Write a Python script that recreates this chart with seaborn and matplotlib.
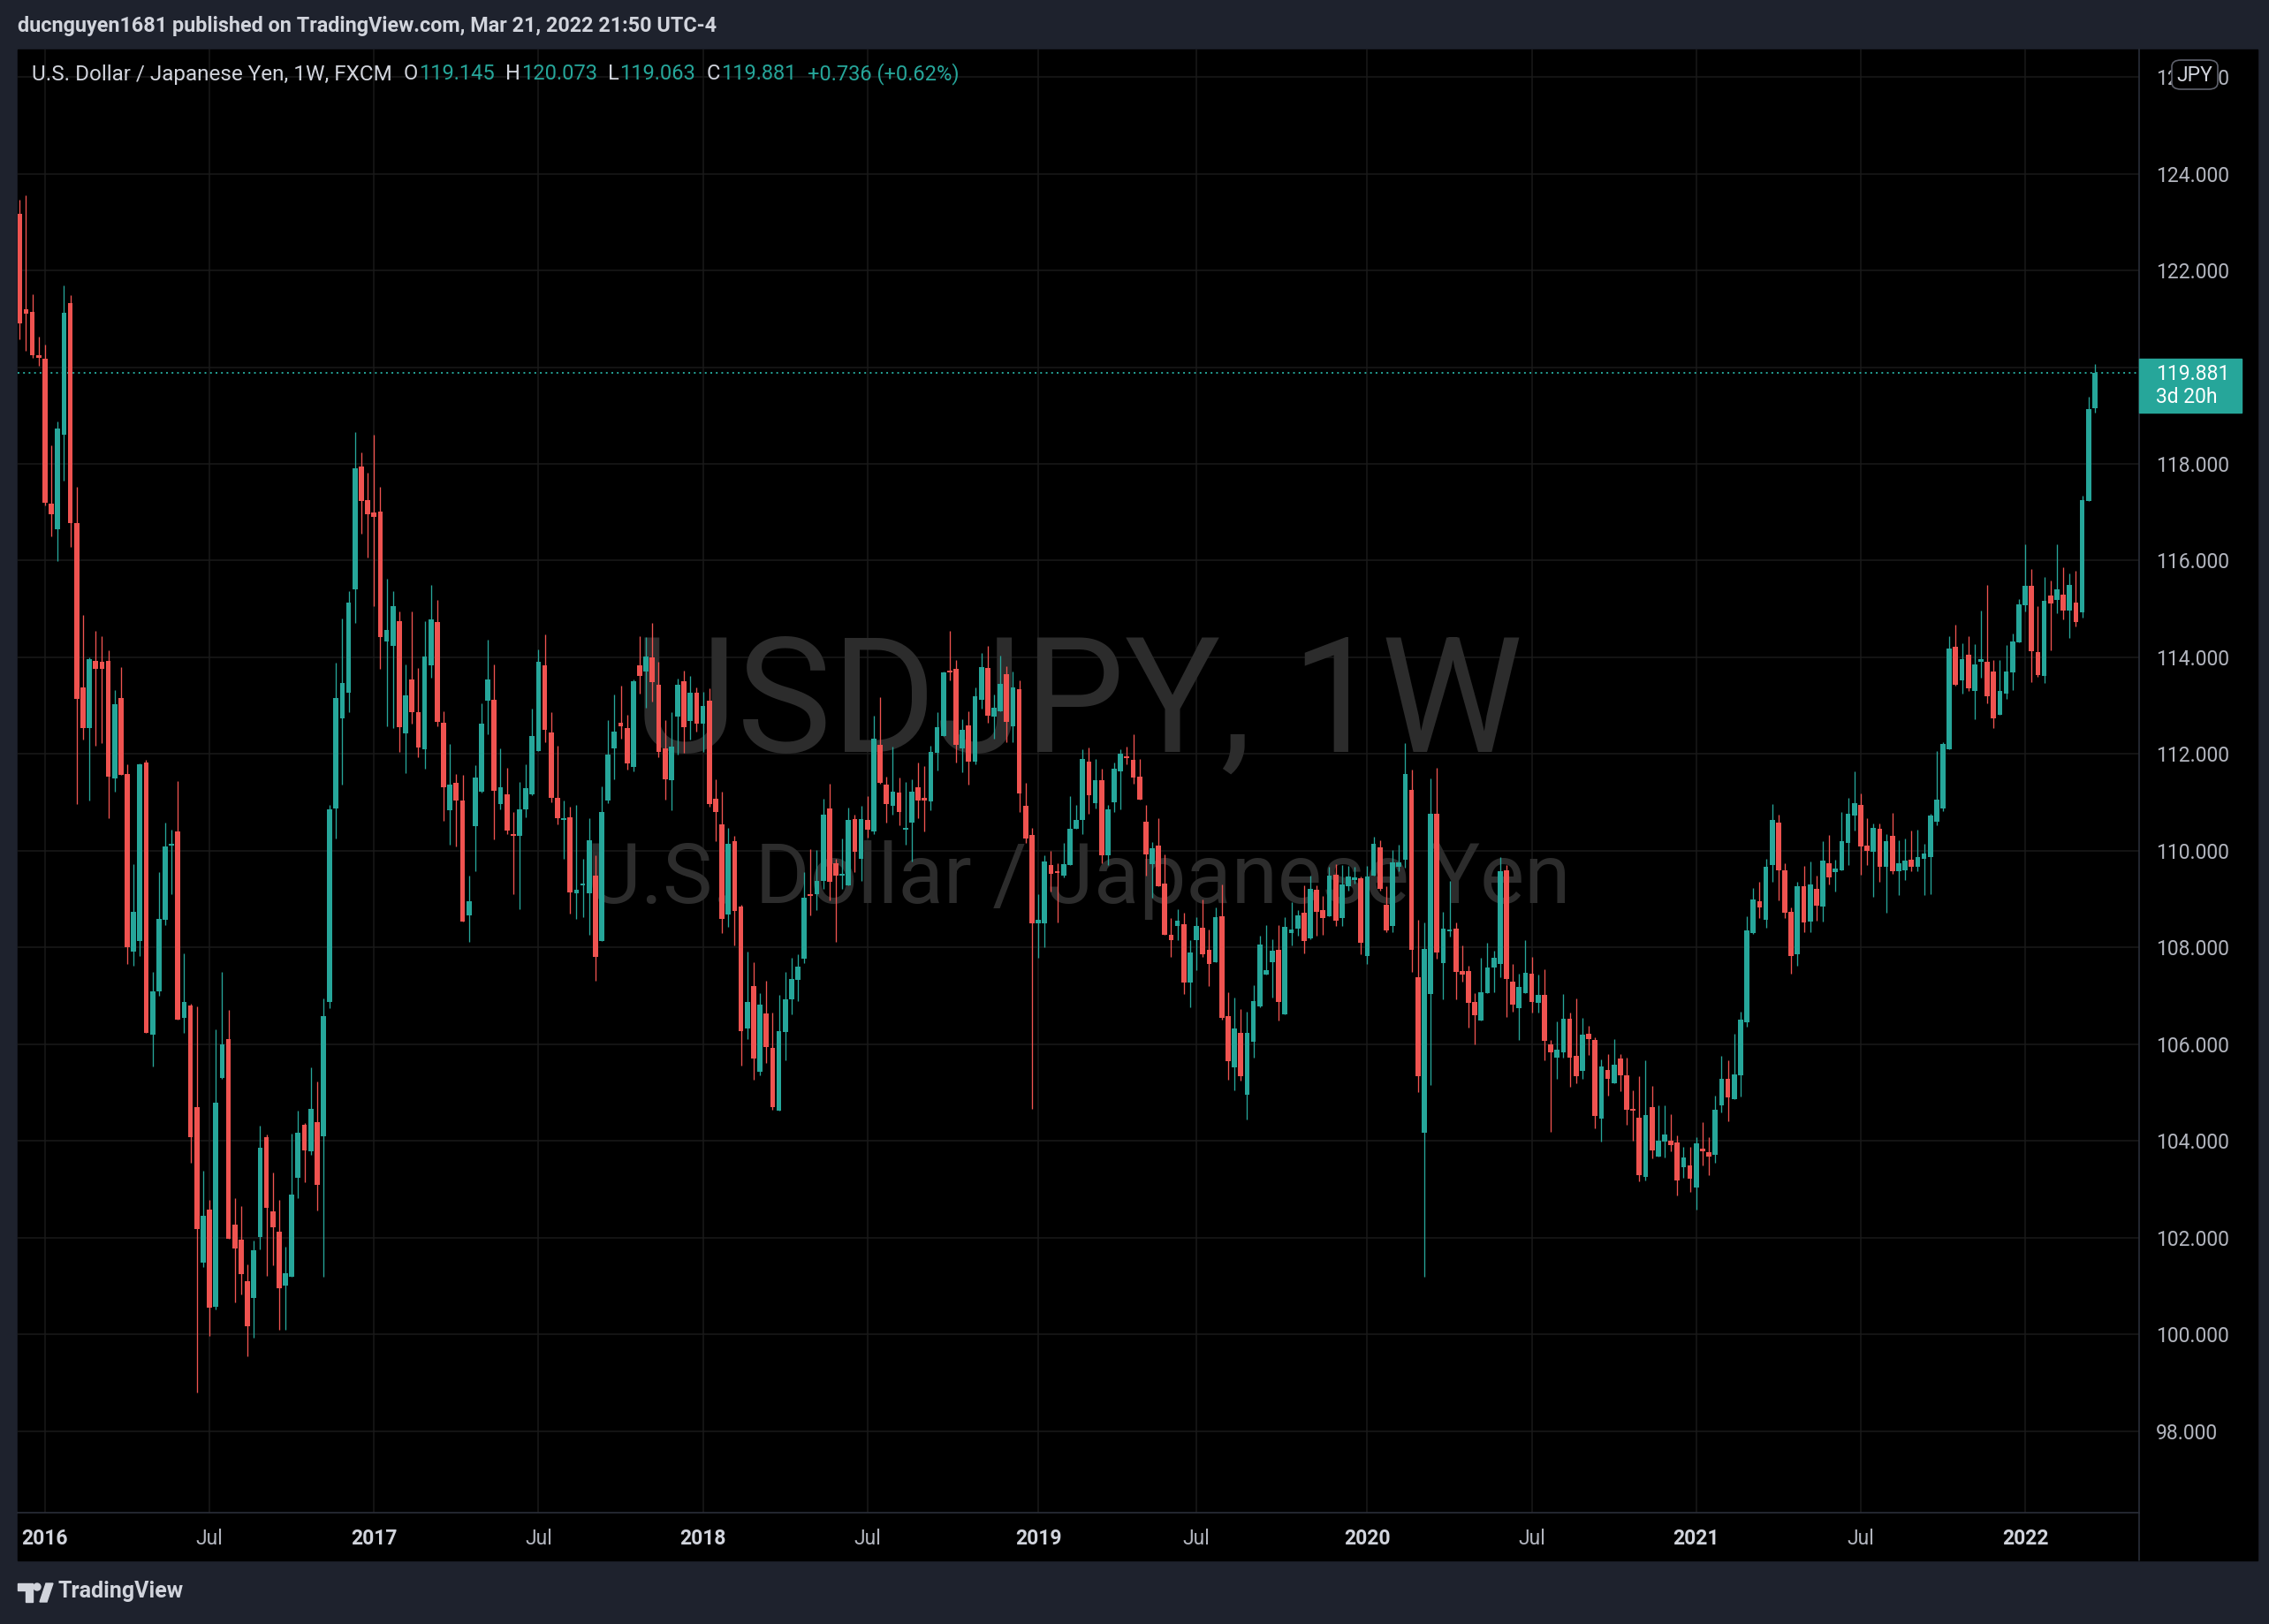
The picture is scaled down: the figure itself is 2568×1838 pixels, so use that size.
import numpy as np
import pandas as pd
import matplotlib
matplotlib.use("Agg")
import matplotlib.pyplot as plt
from matplotlib.patches import Rectangle, FancyBboxPatch, Polygon, Ellipse
from matplotlib.lines import Line2D
from matplotlib.ticker import MultipleLocator, FuncFormatter
import seaborn as sns

# weekly USD/JPY candles (FXCM, 1W), first candle = week of 2015-12-07
first_week = "2015-12-07"

opens = [
    123.17, 121.2, 121.14, 120.25, 120.17, 117.18, 116.65, 118.6, 121.32, 116.77,
    113.37, 112.53, 113.93, 113.9, 113.92, 111.5, 113.15, 111.58, 107.91, 108.14,
    111.83, 106.2, 107.09, 108.58, 110.1, 110.4, 106.55, 106.8, 104.69, 101.49,
    102.58, 100.56, 105.3, 106.1, 102.26, 101.96, 101.1, 100.75, 102.01, 104.08,
    102.54, 102.12, 101.0, 101.19, 103.23, 104.33, 103.78, 104.39, 104.1, 106.87,
    110.87, 112.74, 113.26, 115.4, 117.94, 117.25, 117.0, 117.01, 114.32, 114.24,
    114.75, 112.42, 113.54, 112.87, 112.09, 113.84, 114.73, 112.65, 110.84, 111.41,
    111.03, 108.67, 110.5, 111.22, 113.1, 113.13, 110.97, 111.17, 110.35, 110.3,
    110.86, 111.17, 112.07, 113.84, 112.44, 111.09, 110.64, 110.69, 109.12, 109.28,
    109.12, 109.48, 108.13, 111.03, 112.12, 112.64, 112.54, 111.73, 113.84, 113.7,
    113.99, 113.44, 112.11, 111.45, 112.77, 113.51, 112.69, 113.26, 112.62, 113.11,
    111.08, 110.55, 108.68, 110.19, 108.84, 106.33, 107.2, 105.43, 106.63, 105.92,
    104.62, 106.26, 106.92, 107.33, 107.77, 109.09, 109.1, 109.37, 110.88, 109.75,
    109.48, 109.28, 110.66, 109.83, 110.64, 110.4, 112.19, 111.37, 110.92, 111.21,
    110.43, 110.58, 111.32, 111.09, 111.02, 112.02, 112.37, 113.72, 113.76, 112.12,
    112.59, 111.85, 113.13, 113.78, 112.77, 112.88, 113.65, 112.58, 113.34, 110.93,
    110.33, 108.5, 108.5, 109.7, 109.55, 109.49, 109.71, 110.45, 110.63, 111.85,
    110.98, 111.45, 109.9, 111.01, 111.65, 111.95, 111.87, 111.54, 110.6, 109.73,
    110.11, 109.32, 108.27, 108.45, 108.48, 107.28, 108.15, 108.41, 107.95, 107.7,
    108.65, 106.58, 105.52, 106.24, 104.95, 106.05, 106.78, 107.44, 107.7, 107.95,
    106.62, 108.3, 108.38, 108.72, 108.19, 109.2, 108.78, 108.65, 109.51, 108.6,
    109.26, 109.4, 109.43, 107.83, 109.49, 110.07, 108.88, 108.45, 109.67, 109.82,
    111.26, 107.39, 104.16, 107.04, 110.77, 107.68, 108.33, 108.39, 107.52, 107.52,
    106.88, 106.48, 107.05, 107.58, 107.65, 109.6, 107.3, 106.75, 107.06, 107.45,
    106.86, 107.01, 106.0, 105.73, 105.83, 106.53, 105.76, 105.44, 106.22, 106.08,
    104.46, 105.46, 105.2, 105.71, 105.35, 104.64, 104.47, 103.26, 104.69, 103.68,
    103.98, 104.01, 103.96, 103.45, 103.5, 103.03, 103.83, 103.77, 103.72, 104.73,
    105.29, 104.86, 105.35, 106.45, 108.3, 108.96, 108.57, 109.7, 110.59, 109.6,
    108.73, 107.85, 109.26, 108.54, 109.22, 108.84, 109.75, 109.55, 109.59, 110.17,
    110.72, 110.94, 110.1, 109.97, 110.45, 109.66, 110.3, 109.57, 109.59, 109.82,
    109.66, 109.84, 109.86, 110.6, 110.87, 112.09, 114.21, 113.52, 114.05, 113.3,
    113.91, 113.9, 113.7, 112.81, 113.25, 113.69, 114.31, 115.07, 115.47, 114.1,
    113.61, 115.27, 115.18, 115.29, 114.96, 115.13, 114.93, 117.24, 119.145,
]

highs = [
    123.47, 123.56, 121.5, 120.64, 120.46, 118.38, 118.87, 121.69, 121.49, 117.53,
    114.87, 113.99, 114.54, 114.44, 114.14, 113.32, 113.79, 111.78, 109.72, 111.81,
    111.88, 107.49, 109.55, 110.58, 110.44, 111.44, 107.88, 106.83, 106.79, 103.38,
    102.78, 106.3, 107.5, 106.71, 102.82, 102.65, 101.44, 101.94, 104.31, 104.13,
    103.34, 102.78, 101.82, 104.15, 104.63, 104.37, 105.52, 105.22, 106.94, 110.95,
    113.88, 114.81, 115.36, 118.65, 118.24, 117.81, 118.6, 117.52, 115.62, 115.36,
    114.95, 113.86, 114.95, 113.78, 114.75, 115.5, 115.18, 112.89, 112.2, 111.59,
    111.57, 109.49, 111.77, 113.05, 114.36, 113.86, 112.12, 111.72, 110.8, 111.43,
    111.79, 112.93, 114.17, 114.48, 112.86, 112.18, 111.03, 110.91, 110.95, 109.83,
    110.67, 109.91, 111.33, 112.71, 113.23, 113.42, 112.82, 113.54, 114.44, 114.41,
    114.72, 113.9, 112.71, 112.86, 113.56, 113.73, 113.62, 113.37, 113.29, 113.36,
    111.48, 111.23, 110.48, 110.3, 108.89, 107.92, 107.69, 107.05, 107.31, 106.65,
    107.02, 107.5, 107.78, 107.85, 109.55, 110.04, 110.02, 111.07, 111.39, 109.84,
    110.26, 110.89, 110.74, 110.93, 111.13, 112.79, 113.18, 111.54, 112.16, 111.52,
    111.43, 111.48, 111.83, 111.76, 112.18, 112.87, 113.71, 114.54, 113.95, 112.72,
    112.88, 113.38, 114.09, 114.23, 113.23, 114.03, 113.81, 113.71, 113.52, 111.41,
    110.48, 109.1, 109.9, 110.0, 109.75, 110.16, 111.13, 110.95, 112.09, 112.14,
    111.9, 111.7, 110.95, 111.83, 112.1, 112.16, 112.4, 111.9, 110.95, 110.18,
    110.68, 109.93, 108.61, 108.79, 108.72, 108.15, 108.63, 108.99, 108.37, 108.83,
    109.3, 107.07, 106.96, 106.73, 106.68, 107.22, 108.24, 108.47, 108.17, 108.47,
    108.63, 108.94, 108.78, 109.29, 109.49, 109.29, 109.07, 109.67, 109.73, 109.7,
    109.69, 109.67, 109.47, 109.69, 110.29, 110.22, 109.27, 110.02, 110.13, 112.23,
    111.68, 108.58, 108.51, 111.5, 111.72, 108.73, 109.38, 108.52, 108.05, 107.63,
    107.06, 107.78, 108.09, 107.94, 109.86, 109.7, 107.65, 107.45, 108.16, 107.8,
    107.43, 107.54, 106.09, 106.47, 107.04, 106.65, 106.95, 106.55, 106.37, 106.15,
    105.68, 105.79, 106.1, 105.79, 105.73, 105.04, 105.33, 105.66, 105.13, 104.74,
    104.73, 104.56, 104.12, 103.87, 103.88, 104.07, 104.38, 104.07, 104.93, 105.75,
    105.66, 106.21, 106.68, 108.64, 109.23, 109.35, 109.84, 110.96, 110.74, 109.75,
    108.82, 109.35, 109.68, 109.77, 109.49, 110.19, 110.32, 109.82, 110.81, 111.1,
    111.65, 111.18, 110.68, 110.57, 110.57, 110.34, 110.79, 110.21, 110.26, 110.41,
    110.43, 110.15, 110.77, 112.07, 112.24, 114.44, 114.68, 114.3, 114.43, 114.28,
    114.96, 115.5, 113.95, 113.95, 114.26, 114.5, 115.21, 116.34, 115.83, 115.05,
    115.67, 115.58, 116.33, 115.87, 115.74, 115.79, 117.35, 119.39, 120.073,
]

lows = [
    120.58, 120.33, 120.2, 120.03, 117.15, 116.5, 115.99, 117.65, 116.28, 110.96,
    112.3, 111.04, 112.17, 112.23, 110.67, 111.22, 111.56, 107.65, 107.62, 107.82,
    106.24, 105.54, 107.0, 108.46, 109.1, 106.5, 106.24, 103.54, 98.8, 101.39,
    99.97, 100.52, 105.28, 101.97, 100.66, 100.82, 99.54, 99.93, 101.75, 101.2,
    101.43, 100.1, 100.09, 101.19, 102.81, 103.15, 103.72, 102.56, 101.19, 106.74,
    110.26, 111.36, 112.86, 114.72, 116.56, 116.06, 115.06, 113.77, 112.58, 112.53,
    112.05, 111.6, 112.62, 111.94, 111.69, 113.57, 112.57, 110.62, 110.12, 110.09,
    108.54, 108.12, 109.58, 111.21, 112.4, 110.24, 110.86, 110.34, 109.11, 108.8,
    110.7, 111.14, 112.07, 112.24, 111.0, 110.55, 109.83, 108.7, 108.59, 108.63,
    108.27, 107.32, 108.13, 110.98, 111.48, 112.32, 111.68, 111.64, 113.25, 112.95,
    113.08, 111.93, 111.05, 110.84, 111.99, 112.02, 112.3, 112.46, 112.04, 110.91,
    110.19, 108.29, 108.42, 108.05, 105.56, 106.11, 105.26, 105.36, 105.62, 104.64,
    104.62, 105.67, 106.62, 106.89, 107.68, 108.67, 108.77, 109.22, 108.97, 108.12,
    109.22, 109.28, 109.56, 109.37, 110.28, 110.35, 111.39, 110.59, 110.74, 110.52,
    110.12, 109.78, 110.68, 110.39, 110.84, 111.66, 112.37, 113.53, 111.83, 111.63,
    111.37, 111.78, 112.94, 112.65, 112.31, 112.88, 112.24, 112.25, 110.81, 110.16,
    104.67, 107.78, 108.0, 109.15, 108.51, 109.44, 109.71, 110.45, 110.35, 110.76,
    110.88, 109.75, 109.71, 110.81, 110.85, 111.78, 111.38, 111.05, 109.48, 109.02,
    109.26, 108.27, 107.8, 108.15, 107.04, 106.76, 107.53, 107.8, 107.2, 107.7,
    106.51, 105.26, 105.04, 105.25, 104.45, 105.73, 106.76, 107.44, 106.96, 106.48,
    106.62, 108.04, 108.25, 107.88, 108.17, 108.25, 108.27, 108.64, 108.44, 108.44,
    109.18, 109.32, 107.85, 107.65, 109.49, 109.17, 108.31, 108.32, 109.57, 109.65,
    107.5, 105.0, 101.19, 105.16, 107.76, 106.92, 108.22, 106.92, 107.29, 106.35,
    105.99, 106.48, 107.05, 107.08, 107.38, 106.57, 106.67, 106.08, 107.05, 106.65,
    106.65, 105.67, 104.18, 105.29, 105.72, 105.12, 105.19, 105.29, 105.77, 104.26,
    103.98, 104.93, 105.2, 105.02, 104.33, 104.01, 103.16, 103.18, 103.63, 103.67,
    103.65, 103.79, 102.87, 103.23, 102.94, 102.57, 103.5, 103.3, 103.54, 104.59,
    104.4, 104.86, 104.91, 106.36, 108.28, 108.6, 108.4, 109.35, 108.98, 108.6,
    107.46, 107.63, 108.32, 108.32, 108.56, 108.54, 109.31, 109.16, 109.59, 109.7,
    110.41, 109.51, 109.7, 109.05, 109.35, 108.71, 109.53, 109.09, 109.4, 109.57,
    109.57, 109.09, 109.11, 110.53, 110.82, 112.09, 113.41, 113.25, 113.3, 112.72,
    113.58, 113.05, 112.54, 112.81, 113.14, 113.32, 114.31, 114.95, 113.48, 113.59,
    113.47, 114.14, 114.91, 114.78, 114.4, 114.64, 114.82, 117.24, 119.063,
]

closes = [
    120.9, 121.1, 120.24, 120.2, 117.19, 116.95, 118.74, 121.12, 116.78, 113.14,
    112.53, 113.96, 113.77, 113.77, 111.53, 113.03, 111.56, 108.01, 108.73, 111.78,
    106.24, 107.09, 108.59, 110.09, 110.14, 106.5, 106.88, 104.07, 102.18, 102.45,
    100.55, 104.79, 106.0, 101.97, 101.77, 101.25, 100.16, 101.73, 103.86, 102.61,
    102.21, 100.96, 101.27, 102.89, 104.16, 103.8, 104.67, 103.09, 106.58, 110.86,
    113.15, 113.47, 115.14, 117.91, 117.24, 116.96, 116.9, 114.41, 114.56, 115.06,
    112.55, 113.22, 112.87, 112.13, 114.02, 114.79, 112.66, 111.31, 111.36, 111.04,
    108.54, 108.95, 111.52, 112.63, 113.54, 111.24, 111.32, 110.42, 110.3, 110.86,
    111.3, 112.37, 113.9, 112.5, 111.09, 110.67, 110.68, 109.14, 109.2, 109.32,
    110.21, 107.81, 110.81, 111.98, 112.46, 112.58, 111.81, 113.5, 113.61, 114.02,
    113.48, 112.05, 111.47, 112.15, 113.44, 112.55, 113.26, 112.62, 113.0, 110.96,
    110.8, 108.59, 110.15, 108.75, 106.27, 106.87, 105.7, 106.82, 105.94, 104.69,
    106.27, 106.92, 107.35, 107.61, 109.03, 109.07, 109.37, 110.74, 109.36, 109.48,
    109.5, 110.64, 109.97, 110.66, 110.44, 112.32, 111.41, 110.97, 111.22, 110.81,
    110.45, 111.22, 111.03, 111.03, 112.05, 112.56, 113.68, 113.68, 112.19, 112.5,
    111.85, 113.2, 113.79, 112.8, 112.96, 113.45, 112.67, 113.38, 111.19, 110.25,
    108.5, 108.57, 109.77, 109.53, 109.54, 109.73, 110.46, 110.64, 111.9, 111.14,
    111.45, 109.9, 110.86, 111.7, 112.01, 111.92, 111.52, 111.06, 109.93, 110.05,
    109.26, 108.27, 108.15, 108.55, 107.28, 107.9, 108.45, 107.86, 107.66, 108.63,
    106.54, 105.65, 106.32, 105.33, 106.24, 106.89, 108.06, 107.53, 107.94, 106.88,
    108.43, 108.37, 108.67, 108.14, 109.21, 108.73, 108.61, 109.49, 108.55, 109.31,
    109.47, 109.44, 108.1, 109.47, 110.14, 109.22, 108.35, 109.76, 109.76, 111.59,
    107.95, 105.33, 107.96, 110.76, 107.89, 108.38, 108.37, 107.5, 107.43, 106.86,
    106.59, 107.08, 107.59, 107.78, 109.57, 107.34, 106.82, 107.19, 107.48, 106.88,
    107.01, 106.06, 105.83, 105.89, 106.53, 105.73, 105.33, 106.2, 106.1, 104.51,
    105.53, 105.28, 105.57, 105.35, 104.65, 104.62, 103.3, 104.54, 103.8, 104.01,
    104.14, 103.92, 103.19, 103.65, 103.21, 103.94, 103.78, 103.67, 104.65, 105.29,
    104.9, 105.38, 106.5, 108.35, 109.0, 108.82, 109.66, 110.63, 109.59, 108.71,
    107.83, 109.27, 108.51, 109.31, 108.87, 109.8, 109.44, 109.64, 110.19, 110.77,
    110.99, 110.08, 109.99, 110.48, 109.66, 110.19, 109.57, 109.75, 109.79, 109.66,
    109.86, 109.95, 110.72, 111.05, 112.2, 114.19, 113.44, 113.97, 113.35, 113.85,
    113.97, 113.2, 112.74, 113.31, 113.7, 114.32, 115.09, 115.47, 114.13, 113.63,
    115.17, 115.12, 115.41, 114.96, 115.5, 114.73, 117.26, 119.13, 119.881,
]

tick_months = ["2016-01", "2016-07", "2017-01", "2017-07", "2018-01", "2018-07",
               "2019-01", "2019-07", "2020-01", "2020-07", "2021-01", "2021-07",
               "2022-01"]
tick_labels = ["2016", "Jul", "2017", "Jul", "2018", "Jul", "2019", "Jul",
               "2020", "Jul", "2021", "Jul", "2022"]

last_close = 119.881
header_parts = [("U.S. Dollar / Japanese Yen, 1W, FXCM", "light", 0),
                ("O", "light", 13), ("119.145", "teal", 1),
                ("H", "light", 12), ("120.073", "teal", 1),
                ("L", "light", 12), ("119.063", "teal", 1),
                ("C", "light", 12), ("119.881", "teal", 1),
                ("+0.736 (+0.62%)", "teal", 13)]

TEAL = "#26a69a"
RED = "#ef5350"
FRAME = "#1e222d"
LIGHT = "#d1d4dc"
AXIS_TXT = "#b2b5be"
SEP = "#2a2e39"
GRID = "#1a1a1a"
WATERMARK = "#2c2c2c"

W, H = 2568, 1838


def fx(px):
    return px / W


def fy(py):
    return 1 - py / H


sns.set_theme(style="dark")
plt.rcParams["font.family"] = ["Roboto", "DejaVu Sans"]

df = pd.DataFrame({"open": opens, "high": highs, "low": lows, "close": closes})
df["date"] = pd.date_range(first_week, periods=len(df), freq="7D")
df["x"] = np.arange(len(df))
df["up"] = df["close"] >= df["open"]
colors = np.where(df["up"], TEAL, RED)

fig = plt.figure(figsize=(W / 100, H / 100), dpi=100, facecolor=FRAME)
fig.patches.append(Rectangle((fx(20), fy(1766)), (2555 - 20) / W, (1766 - 56) / H,
                             transform=fig.transFigure, color="black", zorder=-1))

ax = fig.add_axes([fx(20), fy(1711.5), (2421 - 20) / W, (1711.5 - 56) / H])
ax.set_facecolor("black")

# candles: wicks then bodies
ax.vlines(df["x"], df["low"], df["high"], colors=colors, lw=0.95, zorder=3)
body_lo = np.minimum(df["open"], df["close"])
body_h = np.maximum((df["close"] - df["open"]).abs(), 0.035)
ax.bar(df["x"], body_h, bottom=body_lo, width=0.8, color=colors, linewidth=0, zorder=4)

ax.set_xlim(-0.32, 335.0)
ax.set_ylim(96.32, 126.57)

# watermark
ax.text(0.5, 0.55, "USDJPY, 1W", transform=ax.transAxes, ha="center", va="center",
        fontsize=130, color=WATERMARK, zorder=1)
ax.text(0.5, 0.432, "U.S. Dollar / Japanese Yen", transform=ax.transAxes, ha="center",
        va="center", fontsize=68, color=WATERMARK, zorder=1)

ax.axhline(last_close, color=TEAL, lw=1.4, ls=(0, (1.0, 2.2)), zorder=2)

# axes
tick_idx = [int(np.searchsorted(df["date"].values, np.datetime64(m + "-01"))) for m in tick_months]
ax.set_xticks(tick_idx)
ax.set_xticklabels(tick_labels)
for lbl in ax.get_xticklabels():
    if lbl.get_text().isdigit():
        lbl.set_fontweight("bold")
        lbl.set_color(LIGHT)
    else:
        lbl.set_color(AXIS_TXT)
ax.yaxis.tick_right()
ax.yaxis.set_major_locator(MultipleLocator(2))
ax.yaxis.set_major_formatter(FuncFormatter(lambda v, p: f"{v:.3f}"))
ax.tick_params(axis="y", length=0, pad=13.5, labelsize=16.5, labelcolor=AXIS_TXT)
ax.tick_params(axis="x", length=0, pad=13, labelsize=16.5)
ax.grid(True, color=GRID, lw=1.1)
for side in ["top", "left"]:
    ax.spines[side].set_visible(False)
for side in ["right", "bottom"]:
    ax.spines[side].set_color(SEP)
    ax.spines[side].set_linewidth(1.2)
fig.add_artist(Line2D([fx(2421), fx(2421)], [fy(1711.5), fy(1766)], color=SEP, lw=1.2))

# last price tag
fig.patches.append(Rectangle((fx(2421), fy(467)), (2537 - 2421) / W, (467 - 406) / H,
                             transform=fig.transFigure, color=TEAL, zorder=5))
fig.text(fx(2440), fy(423), f"{last_close:.3f}", color="white", fontsize=16.5,
         va="center", zorder=6)
fig.text(fx(2440), fy(450), "3d 20h", color="white", fontsize=16.5, va="center", zorder=6)

# currency box on the price scale (covers the middle of the 126.000 label)
fig.patches.append(FancyBboxPatch((fx(2458), fy(101)), (2510 - 2458) / W, (101 - 68) / H,
                                  boxstyle="round,pad=0,rounding_size=0.004",
                                  transform=fig.transFigure, facecolor="black",
                                  edgecolor="#5d606b", lw=1.2, zorder=5))
fig.text(fx(2484), fy(85), "JPY", color=LIGHT, fontsize=16.5, ha="center", va="center", zorder=6)

# legend line with OHLC
renderer = fig.canvas.get_renderer()
xpos = 36
for i, (txt, tone, gap) in enumerate(header_parts):
    xpos += gap
    t = fig.text(fx(xpos), fy(84), txt, color=LIGHT if tone == "light" else TEAL,
                 fontsize=17.5 if i == 0 else 17, va="center")
    xpos = t.get_window_extent(renderer).x1

# frame texts
fig.text(fx(20), fy(29.5), "ducnguyen1681 published on TradingView.com, Mar 21, 2022 21:50 UTC-4",
         color=LIGHT, fontsize=16.8, fontweight="bold", va="center")
fig.patches.append(Polygon([(fx(20), fy(1792)), (fx(37), fy(1792)), (fx(37), fy(1813)),
                            (fx(29), fy(1813)), (fx(29), fy(1800)), (fx(20), fy(1800))],
                           closed=True, transform=fig.transFigure, color=LIGHT))
fig.patches.append(Ellipse((fx(42), fy(1796)), 8 / W, 8 / H, transform=fig.transFigure, color=LIGHT))
fig.patches.append(Polygon([(fx(45), fy(1813)), (fx(52), fy(1792)), (fx(60), fy(1792)),
                            (fx(53), fy(1813))], closed=True, transform=fig.transFigure, color=LIGHT))
fig.text(fx(66), fy(1801), "TradingView", color=LIGHT, fontsize=18, fontweight="bold", va="center")

fig.savefig("out.png", dpi=100, facecolor=FRAME)
